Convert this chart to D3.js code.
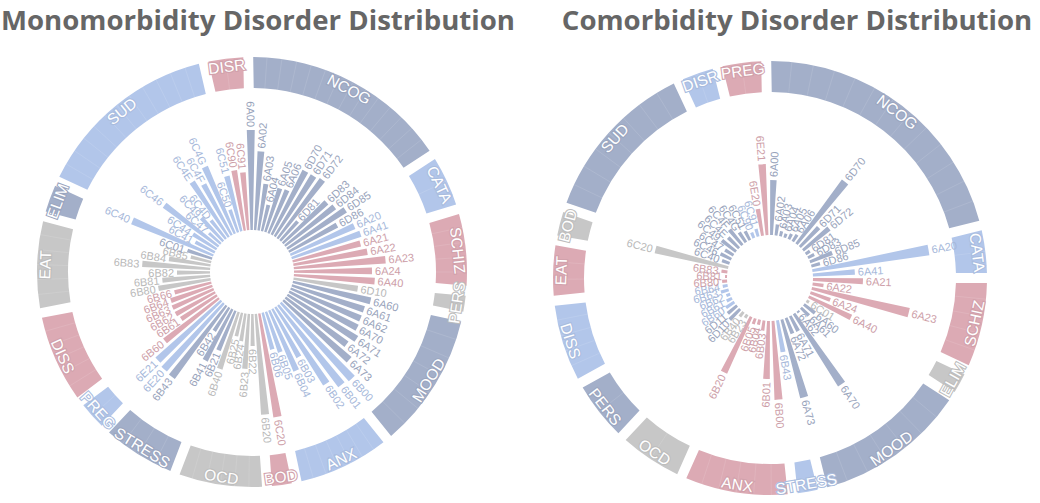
<!DOCTYPE html>
<html><head><meta charset="utf-8">
<script src="https://cdn.jsdelivr.net/npm/d3@7"></script>
<style>body{margin:0;background:#fff;} svg{display:block;}</style>
</head><body><svg id="chart" width="1040" height="503"></svg>
<script>
// ===== Monomorbidity (left) =====
const groupsMono = ["NCOG","CATA","SCHIZ","PERS","MOOD","ANX","BOD","OCD","STRESS","PREG","DISS","EAT","ELIM","SUD","DISR"];
const ringMono   = [56,14,20,5,37,25,6,23,20,8,24,24,8,50,10];
const codesMono = ["6A00","6A02","6A03","6A04","6A05","6A06","6D70","6D71","6D72","6D81","6D83","6D84","6D85","6D86",
  "6A20","6A41","6A21","6A22","6A23","6A24","6A40","6D10",
  "6A60","6A61","6A62","6A70","6A71","6A72","6A73",
  "6B00","6B01","6B02","6B03","6B04","6B05","6B06","6C20",
  "6B20","6B22","6B23","6B24","6B25","6B40","6B21","6B41","6B42","6B43",
  "6E20","6E21","6B60","6B61","6B62","6B63","6B64","6B66",
  "6B80","6B81","6B82","6B83","6B84","6B85","6C01",
  "6C40","6C41","6C44","6C46","6C47","6C49","6C4D","6C4E","6C4F","6C4G","6C50","6C51","6C90","6C91"];
const groupMono = ["NCOG","NCOG","NCOG","NCOG","NCOG","NCOG","NCOG","NCOG","NCOG","NCOG","NCOG","NCOG","NCOG","NCOG",
  "CATA","CATA","SCHIZ","SCHIZ","SCHIZ","SCHIZ","SCHIZ","PERS",
  "MOOD","MOOD","MOOD","MOOD","MOOD","MOOD","MOOD",
  "ANX","ANX","ANX","ANX","ANX","ANX","ANX","BOD",
  "OCD","OCD","OCD","OCD","OCD","OCD","STRESS","STRESS","STRESS","STRESS",
  "PREG","PREG","DISS","DISS","DISS","DISS","DISS","DISS",
  "EAT","EAT","EAT","EAT","EAT","EAT","ELIM",
  "SUD","SUD","SUD","SUD","SUD","SUD","SUD","SUD","SUD","SUD","SUD","SUD","DISR","DISR"];
const valuesMono = [100,79,47,27,46,47,72,72,74,26,60,63,70,55,
  70,73,70,75,92,78,81,65,
  80,76,76,77,82,77,89,
  104,102,92,55,66,43,38,105,
  101,32,55,28,24,60,43,58,28,90,
  89,87,69,43,45,45,44,38,
  53,48,33,68,42,21,26,
  88,22,28,68,16,32,24,66,58,73,24,57,61,58];

// ===== Comorbidity (right) =====
const groupsCo = ["NCOG","CATA","SCHIZ","ELIM","MOOD","STRESS","ANX","OCD","PERS","DISS","EAT","BOD","SUD","DISR","PREG"];
const ringCo   = [75,12,23,6,41,6,28,17,16,21,14,7,44,9,11];
const codesCo = ["6A00","6A02","6A03","6A04","6A05","6A06","6D70","6D71","6D72","6D81","6D83","6D85","6D86",
  "6A20","6A41","6A21","6A22","6A23","6A24","6A40","6C01",
  "6A60","6A61","6A62","6A70","6A71","6A72","6A73","6B43",
  "6B00","6B01","6B03","6B04","6B05","6B20","6B23","6B40","6D10","6D11",
  "6B60","6B61","6B62","6B63","6B64","6B80","6B81","6B83","6C20",
  "6C40","6C46","6C47","6C49","6C4E","6C4F","6C4G","6C51","6C90","6C91","6E20","6E21"];
const groupCo = ["NCOG","NCOG","NCOG","NCOG","NCOG","NCOG","NCOG","NCOG","NCOG","NCOG","NCOG","NCOG","NCOG",
  "CATA","CATA","SCHIZ","SCHIZ","SCHIZ","SCHIZ","SCHIZ","ELIM",
  "MOOD","MOOD","MOOD","MOOD","MOOD","MOOD","MOOD","STRESS",
  "ANX","ANX","ANX","ANX","ANX","ANX","OCD","OCD","PERS","PERS",
  "DISS","DISS","DISS","DISS","DISS","EAT","EAT","EAT","BOD",
  "SUD","SUD","SUD","SUD","SUD","SUD","SUD","SUD","DISR","DISR","PREG","PREG"];
const valuesCo = [55,11,5,4,6,8,79,27,34,5,7,24,9,
  118,42,50,11,100,21,47,3,
  14,11,2,85,17,17,81,32,
  79,58,10,5,6,62,4,6,15,12,
  10,6,4,8,5,5,2,6,75,
  8,12,10,18,15,20,12,10,6,8,27,71];

const titles = ["Monomorbidity Disorder Distribution","Comorbidity Disorder Distribution"];
const palette = ["#a3afc9","#b2c6ea","#dcaab4","#c7c7c7"];

const svg = d3.select("#chart");
const rad = Math.PI/180;

function drawChart(cfg){
  const color = d3.scaleOrdinal().domain(cfg.groups).range(cfg.groups.map((_,i)=>palette[i%4]));
  const root = svg.append("g").attr("transform",`translate(${cfg.cx},${cfg.cy})`);

  // outer ring
  const pad = 2*rad;
  const pie = d3.pie().sort(null).value(d=>d.w).padAngle(pad)
      .startAngle(-pad/2).endAngle(2*Math.PI-pad/2);
  const arcs = pie(cfg.groups.map((g,i)=>({g, w: cfg.ring[i], n: cfg.grp.filter(x=>x===g).length})));
  const ringArc = d3.arc().innerRadius(cfg.rIn).outerRadius(cfg.rOut);
  root.append("g").selectAll("path").data(arcs).join("path")
    .attr("d", ringArc).attr("fill", d=>color(d.data.g));

  // faint subdivisions (one slot per disorder code in the group)
  const divs = [];
  arcs.forEach(d=>{
    const s = d.startAngle + pad/2, e = d.endAngle - pad/2;
    for (let k=1;k<d.data.n;k++) divs.push(s + k*(e-s)/d.data.n);
  });
  root.append("g").selectAll("line").data(divs).join("line")
    .attr("x1", a=>cfg.rIn*Math.sin(a)).attr("y1", a=>-cfg.rIn*Math.cos(a))
    .attr("x2", a=>cfg.rOut*Math.sin(a)).attr("y2", a=>-cfg.rOut*Math.cos(a))
    .attr("stroke","#ffffff").attr("stroke-opacity",0.16).attr("stroke-width",0.7);

  const rl = cfg.rOut - 8;
  root.append("g").selectAll("text").data(arcs).join("text")
    .attr("transform", d=>{
      const m = (d.startAngle+d.endAngle)/2/rad;
      const flip = m>90 && m<270;
      return `rotate(${m}) translate(0,${-rl})` + (flip?" rotate(180)":"");
    })
    .attr("text-anchor","middle").attr("dominant-baseline","central")
    .attr("font-family","Liberation Sans, Arial, sans-serif").attr("font-size",15.5)
    .attr("fill","#ffffff").attr("stroke", d=>d3.color(color(d.data.g)).darker(0.15)).attr("stroke-width",2.2)
    .attr("paint-order","stroke")
    .text(d=>d.data.g);

  // bars
  const ang = d3.scaleBand().domain(cfg.codes)
    .range([cfg.a0*rad, cfg.a0*rad + 2*Math.PI]).paddingInner(cfg.pad).paddingOuter(cfg.pad/2);
  const r = d3.scaleLinear().domain([0,100]).range([cfg.hole, cfg.hole+100]);
  const bars = cfg.codes.map((c,i)=>({c, g: cfg.grp[i], v: cfg.vals[i]}));
  const barArc = d3.arc().innerRadius(cfg.hole).outerRadius(d=>r(d.v))
    .startAngle(d=>ang(d.c)).endAngle(d=>ang(d.c)+ang.bandwidth());
  root.append("g").selectAll("path").data(bars).join("path")
    .attr("d", barArc).attr("fill", d=>color(d.g));
  const midDeg = d=>{ let a=(ang(d.c)+ang.bandwidth()/2)/rad; return ((a%360)+360)%360; };
  root.append("g").selectAll("text").data(bars).join("text")
    .attr("transform", d=>{
      const a = midDeg(d);
      const flip = a>180 && a<360;
      return `rotate(${a-90}) translate(${r(d.v)+3},0)` + (flip?" rotate(180)":"");
    })
    .attr("text-anchor", d=>{ const a=midDeg(d); return (a>180 && a<360) ? "end":"start"; })
    .attr("dominant-baseline","central")
    .attr("font-family","Liberation Sans, Arial, sans-serif").attr("font-size",11)
    .attr("fill", d=>d3.color(color(d.g)).darker(0.2))
    .text(d=>d.c);

  svg.append("text").attr("x", cfg.tx).attr("y", 30).attr("text-anchor","middle")
    .attr("font-family","Open Sans, sans-serif").attr("font-weight","bold").attr("font-size",27.6)
    .attr("fill","#666666").text(cfg.title);
}

drawChart({groups:groupsMono, ring:ringMono, codes:codesMono, grp:groupMono, vals:valuesMono,
  cx:252, cy:272, hole:42, rIn:184, rOut:215, a0:-0.5-360/76/2, pad:0.32, tx:258, title:titles[0]});
drawChart({groups:groupsCo, ring:ringCo, codes:codesCo, grp:groupCo, vals:valuesCo,
  cx:770, cy:278, hole:43, rIn:186, rOut:217, a0:2-360/60/2, pad:0.37, tx:797, title:titles[1]});
</script></body></html>
